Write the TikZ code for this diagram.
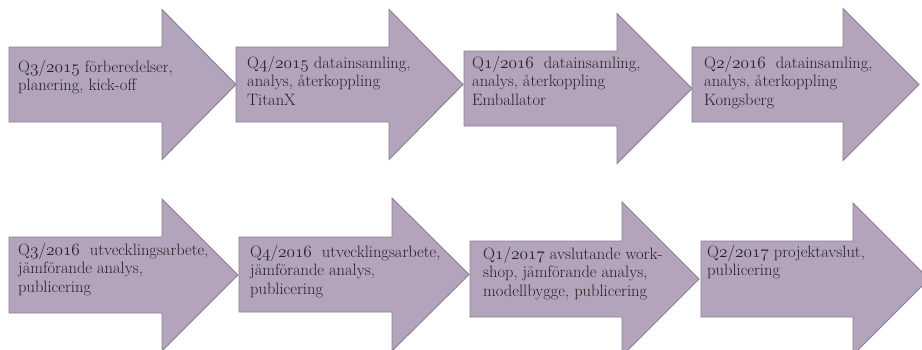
\documentclass[tikz,border=0pt]{standalone}
\usetikzlibrary{calc}
\definecolor{arrowfill}{RGB}{179,164,188}
\definecolor{arrowline}{RGB}{138,126,144}
\definecolor{txt}{RGB}{40,32,34}
\newcommand\osn[1]{{\usefont{OML}{cmm}{m}{it}#1}}
\tikzset{
  phase/.style={fill=arrowfill, draw=arrowline, line width=0.9pt, line join=miter},
  lbl/.style={anchor=base west, inner sep=0pt, text=txt,
    font=\fontsize{16.5}{18.5}\selectfont},
}
% left, top, bottom, headx, headtop, headbottom, tipx
\newcommand\phasearrow[7]{%
  \path[phase] (#1,#2) -- (#4,#2) -- (#4,#5) -- ($(#7,#2)!0.5!(#7,#3)$)
    -- (#4,#6) -- (#4,#3) -- (#1,#3) -- cycle;}
\begin{document}
\begin{tikzpicture}[x=1pt,y=-1pt]
\useasboundingbox (0,0) rectangle (922,349);
\clip (0,0) rectangle (922,349);
% top row
\phasearrow{9}{47}{122}{162}{9.5}{159.5}{236}
\phasearrow{236}{47}{122}{389}{9.5}{159.5}{463}
\phasearrow{464}{51}{126}{617}{13.5}{163.5}{692}
\phasearrow{692}{47}{122}{843}{8.5}{160.5}{919}
% bottom row
\phasearrow{9}{237}{313}{162}{199}{351}{238}
\phasearrow{239}{237}{312}{392}{198}{351}{469}
\phasearrow{470}{241}{317}{622}{202}{356}{699}
\phasearrow{701}{241}{317}{853}{203}{355}{929}
% texts
\node[lbl] (t1) at (18,72) {\parbox[t]{300pt}{Q\osn{3}/\osn{2015} förberedelser,\\planering, kick-off}};
\node[lbl] (t2) at (247,68) {\parbox[t]{300pt}{Q\osn{4}/\osn{2015} datainsamling,\\analys, återkoppling\\TitanX}};
\node[lbl] (t3) at (472,68) {\parbox[t]{300pt}{Q\osn{1}/\osn{2016}\ \ datainsamling,\\analys, återkoppling\\Emballator}};
\node[lbl] (t4) at (704,68) {\parbox[t]{300pt}{Q\osn{2}/\osn{2016}\ \ datainsamling,\\analys, återkoppling\\Kongsberg}};
\node[lbl] (t5) at (18,255) {\parbox[t]{300pt}{Q\osn{3}/\osn{2016}\ \ utvecklingsarbete,\\jämförande analys,\\publicering}};
\node[lbl] (t6) at (250,257) {\parbox[t]{300pt}{Q\osn{4}/\osn{2016}\ \ utvecklingsarbete,\\jämförande analys,\\publicering}};
\node[lbl] (t7) at (483,259) {\parbox[t]{300pt}{Q\osn{1}/\osn{2017} avslutande work-\\shop, jämförande analys,\\modellbygge, publicering}};
\node[lbl] (t8) at (707,257) {\parbox[t]{300pt}{Q\osn{2}/\osn{2017} projektavslut,\\publicering}};
\end{tikzpicture}
\end{document}
